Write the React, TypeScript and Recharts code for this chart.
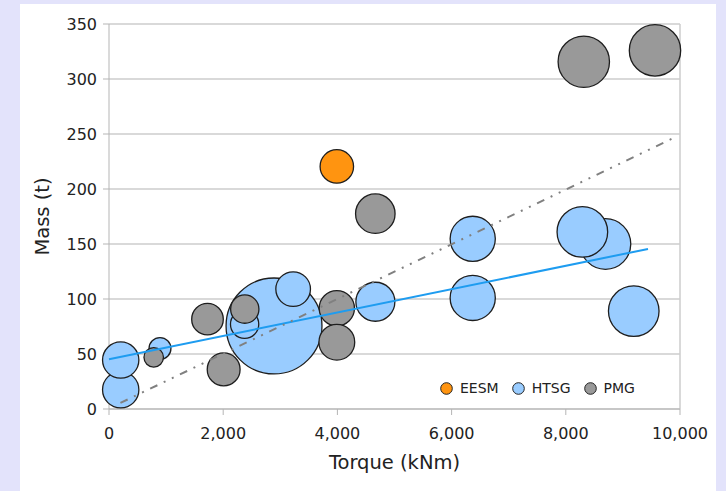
import React from 'react';
import {
  ScatterChart,
  Scatter,
  XAxis,
  YAxis,
  ZAxis,
  CartesianGrid,
  ReferenceLine,
  Legend,
} from 'recharts';

// bubble data: x = torque (kNm), y = mass (t), z = bubble size
const eesmPoints = [{ x: 3990, y: 220.5, z: 2.8 }];

const htsgPoints = [
  { x: 2890, y: 75.5, z: 23 },
  { x: 205, y: 17.5, z: 3.3 },
  { x: 205, y: 44.5, z: 3.3 },
  { x: 893, y: 55, z: 1.2 },
  { x: 2375, y: 77, z: 2.0 },
  { x: 3225, y: 109, z: 3.0 },
  { x: 4665, y: 97.5, z: 3.8 },
  { x: 6370, y: 154.7, z: 5.1 },
  { x: 6370, y: 101, z: 5.1 },
  { x: 8695, y: 150, z: 6.4 },
  { x: 8290, y: 161, z: 6.4 },
  { x: 9190, y: 89, z: 6.4 },
];

const pmgPoints = [
  { x: 783, y: 47, z: 0.95 },
  { x: 1725, y: 81.7, z: 2.5 },
  { x: 2008, y: 36, z: 2.7 },
  { x: 2378, y: 90.8, z: 2.0 },
  { x: 3990, y: 91.6, z: 3.1 },
  { x: 3990, y: 60.7, z: 3.2 },
  { x: 4664, y: 177.6, z: 3.9 },
  { x: 8315, y: 315.7, z: 6.6 },
  { x: 9562, y: 326, z: 6.6 },
];

// trend lines (end points)
const htsgTrend = [
  { x: 0, y: 45.2 },
  { x: 9440, y: 145.5 },
];
const pmgTrend = [
  { x: 200, y: 5.5 },
  { x: 9910, y: 247 },
];

const xTicks = [0, 2000, 4000, 6000, 8000, 10000];
const yTicks = [0, 50, 100, 150, 200, 250, 300, 350];

const seriesNames = ['EESM', 'HTSG', 'PMG'];
const seriesColors = ['#ff9410', '#99ccff', '#999999'];

const FONT = '"DejaVu Sans", "Liberation Sans", Arial, sans-serif';

const hidden = () => <g />;

const YTitle = (props: any) => {
  const vb = props.viewBox || { x: 0, y: 20, width: 89, height: 385 };
  const cx = vb.x + 22;
  const cy = vb.y + vb.height / 2;
  return (
    <text
      x={cx}
      y={cy}
      transform={`rotate(-90 ${cx} ${cy})`}
      textAnchor="middle"
      dominantBaseline="central"
      fill="#222"
      fontSize={19.5}
      fontFamily={FONT}
    >
      Mass (t)
    </text>
  );
};

const LegendBox = () => (
  <div
    style={{
      display: 'flex',
      alignItems: 'center',
      height: 16,
      fontFamily: FONT,
      fontSize: 14,
      color: '#222',
      whiteSpace: 'nowrap',
    }}
  >
    {seriesNames.map((name, i) => (
      <div key={name} style={{ display: 'flex', alignItems: 'center', marginRight: 13 }}>
        <svg width={13} height={13} style={{ marginRight: 7 }}>
          <circle cx={6.5} cy={6.5} r={5.8} fill={seriesColors[i]} stroke="#222" strokeWidth={1} />
        </svg>
        <span>{name}</span>
      </div>
    ))}
  </div>
);

export default function App() {
  return (
    <div
      style={{
        position: 'absolute',
        left: 0,
        top: 0,
        width: 726,
        height: 491,
        background: '#e3e3fb',
      }}
    >
      <div style={{ position: 'absolute', left: 20, top: 4, width: 696, height: 487, background: '#fff' }}>
        <ScatterChart
          width={696}
          height={487}
          margin={{ top: 20, right: 36, left: 0, bottom: 17 }}
          style={{ fontFamily: FONT }}
        >
          <CartesianGrid vertical={false} stroke="#cccccc" strokeWidth={1.5} />
          <ReferenceLine x={10000} stroke="#cccccc" strokeWidth={1.5} />
          <XAxis
            type="number"
            dataKey="x"
            domain={[0, 10000]}
            ticks={xTicks}
            tickFormatter={(v: number) => v.toLocaleString('en-US')}
            height={65}
            stroke="#b5b5b5"
            tickSize={6}
            tickMargin={13}
            tick={{ fill: '#222', fontSize: 16, fontFamily: FONT }}
            label={{
              value: 'Torque (kNm)',
              position: 'insideBottom',
              offset: 5,
              fill: '#222',
              fontSize: 19.5,
              fontFamily: FONT,
            }}
          />
          <YAxis
            type="number"
            dataKey="y"
            domain={[0, 350]}
            ticks={yTicks}
            width={89}
            stroke="#b5b5b5"
            tickSize={6}
            tickMargin={6}
            tick={{ fill: '#222', fontSize: 16, fontFamily: FONT }}
            label={{ content: YTitle }}
          />
          <ZAxis type="number" dataKey="z" domain={[0, 25]} range={[0, Math.PI * 2500]} />
          <Legend
            layout="vertical"
            align="center"
            verticalAlign="middle"
            content={LegendBox}
            wrapperStyle={{ left: 420, top: 376, width: 'auto' }}
          />
          <Scatter
            name="HTSG"
            data={htsgPoints}
            fill="#99ccff"
            stroke="#1e1e1e"
            strokeWidth={1.3}
            isAnimationActive={false}
          />
          <Scatter
            name="PMG"
            data={pmgPoints}
            fill="#999999"
            stroke="#1e1e1e"
            strokeWidth={1.3}
            isAnimationActive={false}
          />
          <Scatter
            name="EESM"
            data={eesmPoints}
            fill="#ff9410"
            stroke="#1e1e1e"
            strokeWidth={1.3}
            isAnimationActive={false}
          />
          <Scatter
            name="HTSG trend"
            data={htsgTrend}
            line={{ stroke: '#1e9cf0', strokeWidth: 2 }}
            shape={hidden}
            legendType="none"
            isAnimationActive={false}
          />
          <Scatter
            name="PMG trend"
            data={pmgTrend}
            line={{ stroke: '#808080', strokeWidth: 2, strokeDasharray: '8 7 2 7 2 7' }}
            shape={hidden}
            legendType="none"
            isAnimationActive={false}
          />
        </ScatterChart>
      </div>
    </div>
  );
}
